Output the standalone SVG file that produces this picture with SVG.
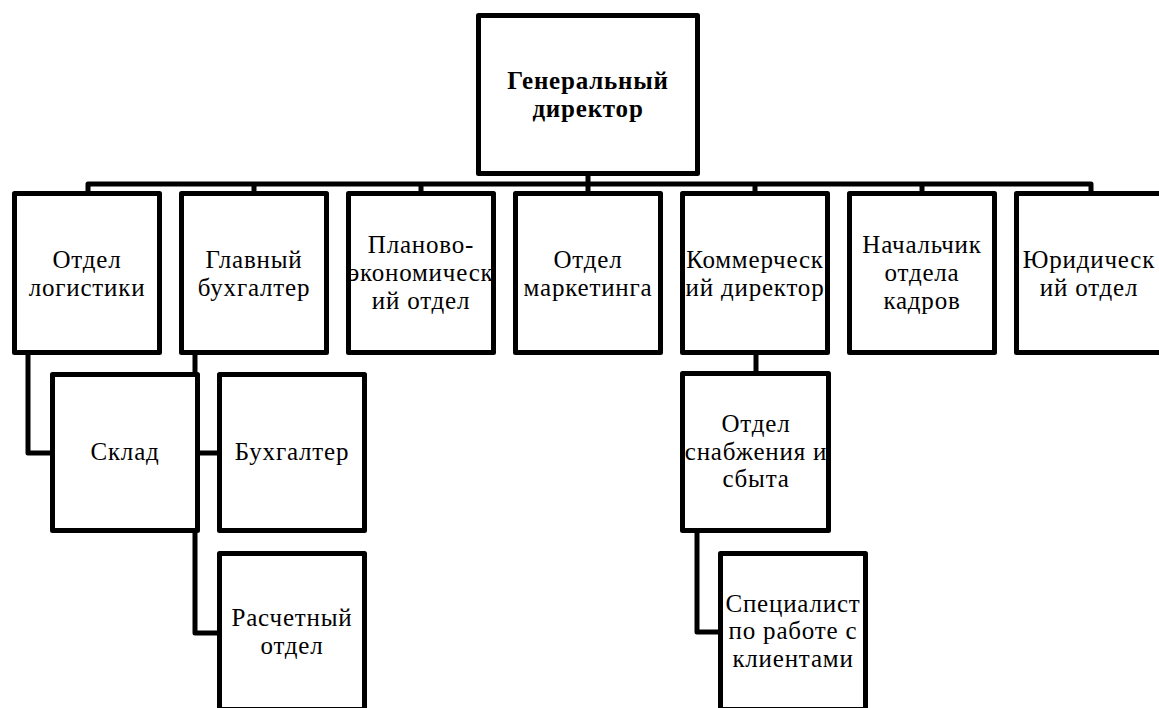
<svg xmlns="http://www.w3.org/2000/svg" width="1159" height="708" viewBox="0 0 1159 708">
<style>
.box{fill:#fff;stroke:#000;stroke-width:5;stroke-linejoin:round}
.con{fill:none;stroke:#000;stroke-width:5;stroke-linejoin:round}
</style>
<rect width="1159" height="708" fill="#fff"/>
<g id="connectors">
<path class="con" d="M88 192V184H1091V192M254 184V192M421 184V192M588 176V192M755 184V192M922 184V192"/>
<path class="con" d="M28 355V453H50"/>
<path class="con" d="M195 355V633H217M195 453H217"/>
<path class="con" d="M756 355V371"/>
<path class="con" d="M697 533V632H718"/>
</g>
<g font-family="Times New Roman, Liberation Serif, DejaVu Serif, serif" font-size="25" letter-spacing="0.8" fill="#000" text-anchor="middle">
<g id="gen"><rect class="box" x="478.5" y="15.5" width="219" height="158"/><text font-weight="bold" x="588" y="89">Генеральный</text><text font-weight="bold" x="588" y="117">директор</text></g>
<g id="log"><rect class="box" x="14.5" y="193.5" width="145" height="159"/><text x="87" y="268">Отдел</text><text x="87" y="296">логистики</text></g>
<g id="buh"><rect class="box" x="181.5" y="193.5" width="145" height="159"/><text x="254" y="268">Главный</text><text x="254" y="296">бухгалтер</text></g>
<g id="plan"><rect class="box" x="348.5" y="193.5" width="145" height="159"/><text x="421" y="253">Планово-</text><text x="421" y="281">экономическ</text><text x="421" y="309">ий отдел</text></g>
<g id="mark"><rect class="box" x="515.5" y="193.5" width="145" height="159"/><text x="588" y="268">Отдел</text><text x="588" y="296">маркетинга</text></g>
<g id="kom"><rect class="box" x="682.5" y="193.5" width="145" height="159"/><text x="755" y="268">Коммерческ</text><text x="755" y="296">ий директор</text></g>
<g id="kadr"><rect class="box" x="849.5" y="193.5" width="145" height="159"/><text x="922" y="253">Начальчик</text><text x="922" y="281">отдела</text><text x="922" y="309">кадров</text></g>
<g id="yur"><rect class="box" x="1016.5" y="193.5" width="145" height="159"/><text x="1089" y="268">Юридическ</text><text x="1089" y="296">ий отдел</text></g>
<g id="sklad"><rect class="box" x="52.5" y="374.5" width="145" height="156"/><text x="125" y="460">Склад</text></g>
<g id="buhg"><rect class="box" x="219.5" y="374.5" width="145" height="156"/><text x="292" y="460">Бухгалтер</text></g>
<g id="rasch"><rect class="box" x="219.5" y="553.5" width="145" height="156"/><text x="292" y="626">Расчетный</text><text x="292" y="654">отдел</text></g>
<g id="snab"><rect class="box" x="682.5" y="373.5" width="146" height="157"/><text x="756" y="432">Отдел</text><text x="756" y="460">снабжения и</text><text x="756" y="487">сбыта</text></g>
<g id="spec"><rect class="box" x="720.5" y="553.5" width="145" height="156"/><text x="793" y="612">Специалист</text><text x="793" y="639">по работе с</text><text x="793" y="667">клиентами</text></g>
</g>
</svg>
